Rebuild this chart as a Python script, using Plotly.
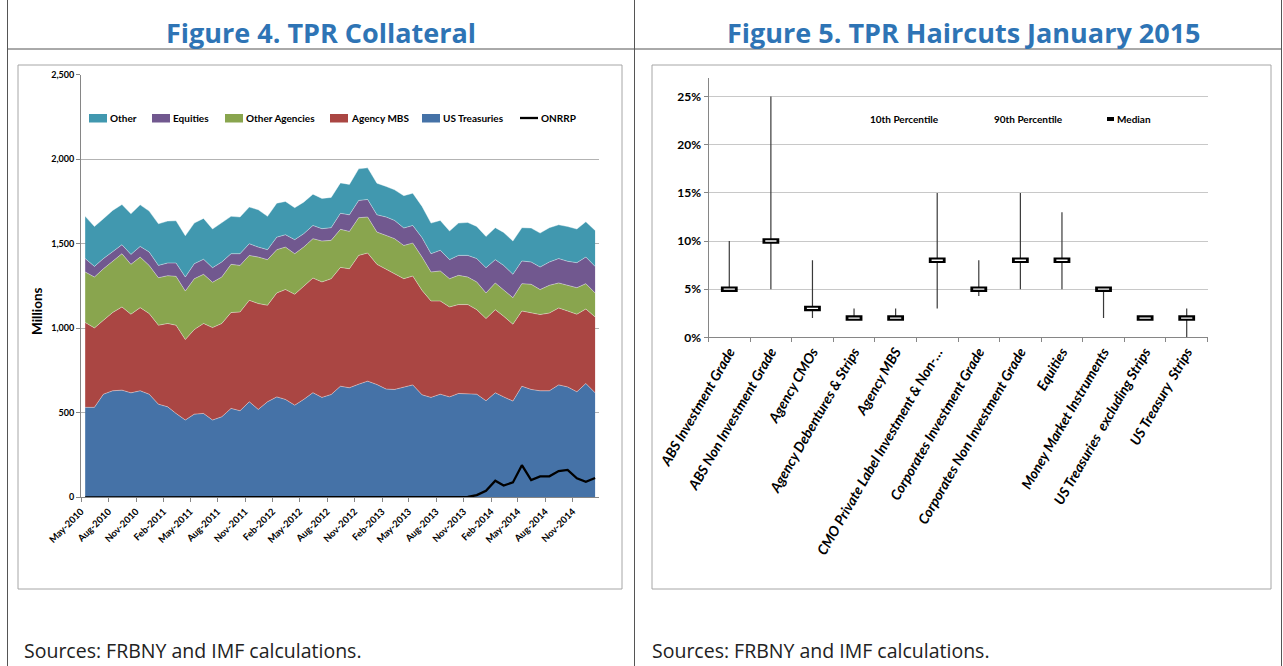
import pandas as pd
import plotly.graph_objects as go

W, H = 1283, 666
def X(px): return px / W
def Y(py): return 1 - py / H

# ---------------- Figure 4 data (monthly, May-2010 .. Jan-2015), millions ----------------
dates = pd.date_range("2010-05-01", periods=57, freq="MS") + pd.Timedelta(days=14)

us_treasuries = [532, 532, 610, 630, 634, 618, 630, 610, 551, 535, 496, 457, 492, 496, 457, 476,
                 526, 512, 565, 520, 565, 594, 579, 545, 579, 619, 591, 608, 657, 648, 669, 687,
                 667, 640, 638, 652, 665, 606, 591, 610, 594, 614, 614, 610, 571, 618, 594, 569,
                 657, 638, 630, 630, 665, 653, 624, 673, 618]
agency_mbs = [502, 470, 437, 463, 492, 465, 492, 477, 467, 493, 522, 476, 500, 532, 547, 552,
              567, 584, 600, 626, 571, 615, 650, 656, 669, 678, 683, 685, 703, 704, 762, 758,
              711, 707, 685, 641, 644, 618, 570, 551, 532, 526, 526, 500, 486, 492, 477, 455,
              445, 452, 451, 460, 455, 449, 459, 441, 449]
other_agencies = [299, 301, 305, 305, 315, 295, 299, 285, 281, 283, 289, 287, 301, 291, 268, 275,
                  285, 276, 266, 275, 270, 256, 251, 240, 232, 233, 242, 227, 225, 221, 223, 213,
                  191, 202, 207, 197, 195, 197, 172, 178, 167, 173, 163, 164, 152, 158, 158, 157,
                  162, 170, 148, 164, 148, 152, 157, 150, 142]
equities = [79, 63, 60, 53, 53, 59, 63, 79, 73, 75, 79, 83, 89, 89, 86, 89,
            63, 69, 69, 59, 59, 74, 73, 83, 79, 78, 73, 75, 95, 98, 102, 104,
            102, 109, 108, 103, 104, 115, 108, 122, 113, 118, 128, 138, 149, 138, 143, 138,
            134, 132, 133, 138, 144, 142, 148, 157, 157]
other = [250, 236, 236, 246, 238, 240, 246, 242, 246, 248, 250, 244, 240, 242, 229, 230,
         221, 217, 217, 221, 197, 201, 197, 189, 187, 185, 179, 179, 180, 180, 187, 187,
         187, 181, 181, 191, 191, 185, 181, 177, 169, 191, 195, 190, 185, 189, 195, 197,
         197, 201, 201, 203, 200, 206, 199, 209, 213]
onrrp = [0] * 42 + [2, 13, 38, 98, 70, 88, 190, 102, 124, 124, 155, 162, 112, 92, 114]

series_names = ["Other", "Equities", "Other Agencies", "Agency MBS", "US Treasuries", "ONRRP"]
series_colors = {"Other": "#4198AF", "Equities": "#71588F", "Other Agencies": "#89A54E",
                 "Agency MBS": "#AA4643", "US Treasuries": "#4572A7", "ONRRP": "#000000"}

# ---------------- Figure 5 data (haircuts, January 2015) ----------------
categories = ["ABS Investment Grade", "ABS Non Investment Grade", "Agency CMOs",
              "Agency Debentures & Strips", "Agency MBS", "CMO Private Label Investment & Non-\u2026",
              "Corporates Investment Grade", "Corporates Non Investment Grade", "Equities",
              "Money Market Instruments", "US Treasuries  excluding Strips", "US Treasury  Strips"]
pct10 = [0.05, 0.05, 0.02, 0.02, 0.02, 0.03, 0.043, 0.05, 0.05, 0.02, 0.02, 0.00]
median = [0.05, 0.10, 0.03, 0.02, 0.02, 0.08, 0.05, 0.08, 0.08, 0.05, 0.02, 0.02]
pct90 = [0.10, 0.25, 0.08, 0.03, 0.03, 0.15, 0.08, 0.15, 0.13, 0.05, 0.02, 0.03]

FONT = "Lato"
fig = go.Figure()

stack_order = [("US Treasuries", us_treasuries), ("Agency MBS", agency_mbs),
               ("Other Agencies", other_agencies), ("Equities", equities), ("Other", other)]
for name, vals in stack_order:
    fig.add_trace(go.Scatter(x=dates, y=vals, name=name, stackgroup="tpr", mode="lines",
                             line=dict(width=0.7, color="rgba(255,255,255,0.55)"),
                             fillcolor=series_colors[name], showlegend=False,
                             xaxis="x", yaxis="y"))
fig.add_trace(go.Scatter(x=dates, y=onrrp, name="ONRRP", mode="lines",
                         line=dict(color="black", width=2.3), showlegend=False,
                         xaxis="x", yaxis="y"))

# whiskers + median markers
fig.add_trace(go.Scatter(
    x=categories, y=median, mode="markers", name="Median", showlegend=False,
    marker=dict(symbol="line-ew", size=12, line=dict(color="black", width=5.5)),
    error_y=dict(type="data", symmetric=False,
                 array=[h - m for h, m in zip(pct90, median)],
                 arrayminus=[m - l for m, l in zip(median, pct10)],
                 width=0, color="#3a3a3a", thickness=1.2),
    xaxis="x2", yaxis="y2"))
fig.add_trace(go.Scatter(
    x=categories, y=median, mode="markers", showlegend=False, hoverinfo="skip",
    marker=dict(symbol="line-ew", size=8, line=dict(color="white", width=1.3)),
    xaxis="x2", yaxis="y2"))

axis_gray = "#868686"
grid_gray = "#B3B3B3"

shapes = []
annotations = []

# table borders
for x in (7.5, 634.5, 1281.5):
    shapes.append(dict(type="line", xref="paper", yref="paper", x0=X(x), x1=X(x), y0=0, y1=1,
                       line=dict(color="#555555", width=1)))
shapes.append(dict(type="line", xref="paper", yref="paper", x0=X(7.5), x1=X(1281.5),
                   y0=Y(49), y1=Y(49), line=dict(color="#555555", width=1)))
# chart area frames
for (x0, x1) in ((18, 622), (652, 1271)):
    shapes.append(dict(type="rect", xref="paper", yref="paper", x0=X(x0), x1=X(x1),
                       y0=Y(589), y1=Y(65), line=dict(color="#A6A6A6", width=1)))

# titles
for txt, cx in (("Figure 4. TPR Collateral", 321), ("Figure 5. TPR Haircuts January 2015", 964)):
    annotations.append(dict(text=txt, x=X(cx), y=Y(32), xref="paper", yref="paper",
                            xanchor="center", yanchor="middle", showarrow=False,
                            font=dict(family="Open Sans", size=27, color="#2E74B5", weight="bold")))
for sx in (22, 650):
    annotations.append(dict(text="Sources: FRBNY and IMF calculations.", x=X(sx), y=Y(650),
                            xref="paper", yref="paper", xanchor="left", yanchor="middle",
                            showarrow=False, font=dict(family="Open Sans", size=19.5, color="#222222")))

# left legend (manual)
legend_pos = {"Other": 89, "Equities": 152, "Other Agencies": 225, "Agency MBS": 330,
              "US Treasuries": 422, "ONRRP": 520}
for name in series_names:
    lx = legend_pos[name]
    if name == "ONRRP":
        shapes.append(dict(type="line", xref="paper", yref="paper", x0=X(lx), x1=X(lx + 18),
                           y0=Y(118), y1=Y(118), line=dict(color="black", width=2.3)))
    else:
        shapes.append(dict(type="rect", xref="paper", yref="paper", x0=X(lx), x1=X(lx + 18),
                           y0=Y(122.5), y1=Y(114), fillcolor=series_colors[name], line=dict(width=0)))
    annotations.append(dict(text=name, x=X(lx + 18.5), y=Y(118), xref="paper", yref="paper",
                            xanchor="left", yanchor="middle", showarrow=False,
                            font=dict(family=FONT, size=10, color="black", weight="bold")))

# right legend (manual)
for txt, lx in (("10th Percentile", 868), ("90th Percentile", 992), ("Median", 1115)):
    annotations.append(dict(text=txt, x=X(lx), y=Y(119), xref="paper", yref="paper",
                            xanchor="left", yanchor="middle", showarrow=False,
                            font=dict(family=FONT, size=10, color="black", weight="bold")))
shapes.append(dict(type="rect", xref="paper", yref="paper", x0=X(1107), x1=X(1114),
                   y0=Y(121), y1=Y(117), fillcolor="black", line=dict(width=0)))

# "Millions"
annotations.append(dict(text="Millions", x=X(37), y=Y(311), xref="paper", yref="paper",
                        xanchor="center", yanchor="middle", textangle=-90, showarrow=False,
                        font=dict(family=FONT, size=13.5, color="black", weight="bold")))

fig.update_layout(
    template="none",
    width=W, height=H, margin=dict(l=0, r=0, t=0, b=0, pad=0, autoexpand=False),
    paper_bgcolor="white", plot_bgcolor="rgba(0,0,0,0)",
    showlegend=False, shapes=shapes, annotations=annotations,
    xaxis=dict(domain=[X(81), X(599)], anchor="y", type="date", automargin=False,
               range=["2010-05-01", "2015-01-28"], tick0="2010-05-01", dtick="M3",
               tickformat="%b-%Y", tickangle=-45,
               tickfont=dict(family=FONT, size=9.5, color="black", weight="bold"),
               showline=True, linecolor=axis_gray, ticks="outside", ticklen=4,
               tickcolor=axis_gray, showgrid=False, zeroline=False),
    yaxis=dict(domain=[Y(497.3), Y(74.7)], anchor="x", range=[0, 2500], dtick=500,
               automargin=False,
               tickformat=",", tickfont=dict(family=FONT, size=9, color="black", weight="bold"),
               showline=True, linecolor=axis_gray, ticks="outside", ticklen=4,
               tickcolor=axis_gray, showgrid=True, gridcolor=grid_gray, gridwidth=1,
               zeroline=False),
    xaxis2=dict(domain=[X(708.5), X(1207.5)], anchor="y2", type="category", automargin=False,
                range=[-0.5, 11.5], tickangle=-60,
                tickfont=dict(family=FONT, size=14, color="black", weight="bold", style="italic"),
                showline=True, linecolor=axis_gray, ticks="outside", ticklen=4,
                tickcolor=axis_gray, tickson="boundaries", showgrid=False, zeroline=False),
    yaxis2=dict(domain=[Y(337.3), Y(78.3)], anchor="x2", range=[0, 0.269], dtick=0.05,
                automargin=False,
                tickformat=".0%", tickfont=dict(family=FONT, size=12, color="black", weight="bold"),
                showline=True, linecolor=axis_gray, ticks="outside", ticklen=4,
                tickcolor=axis_gray, showgrid=True, gridcolor="#C8C8C8", gridwidth=1,
                zeroline=False),
)

fig.write_html("out.html", config={"displayModeBar": False},
               post_script="document.body.style.margin='0px';")
